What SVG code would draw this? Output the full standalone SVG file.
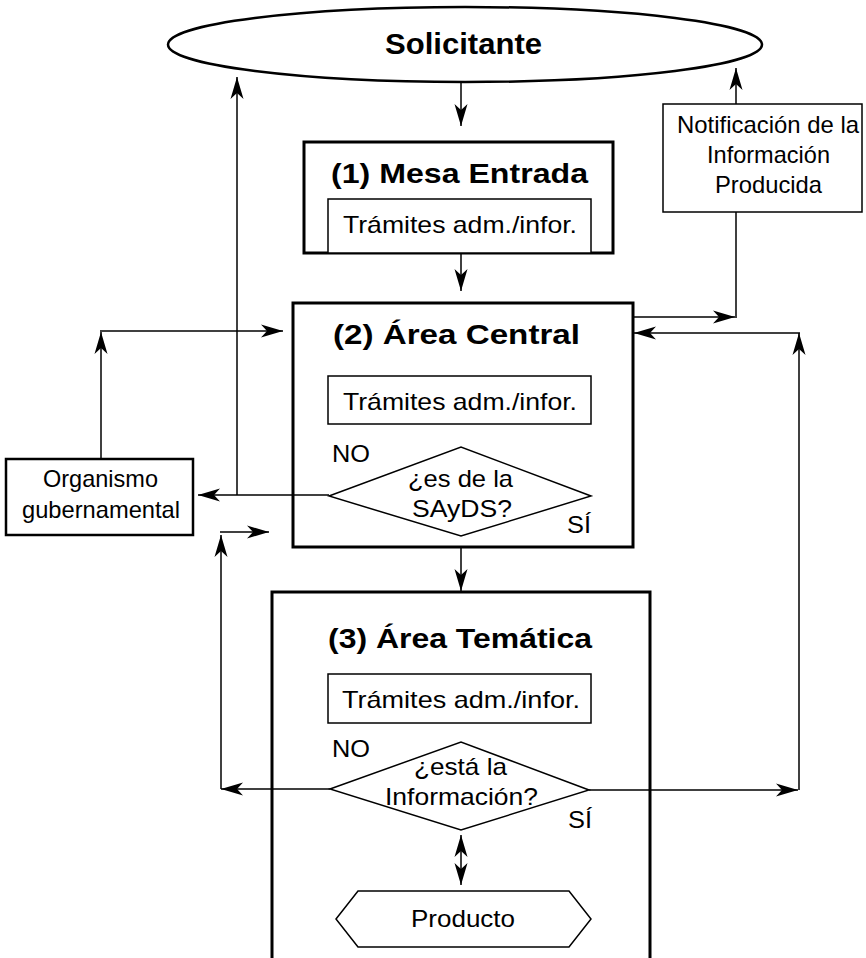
<svg xmlns="http://www.w3.org/2000/svg" width="866" height="958" viewBox="0 0 866 958">
<style>
text{font-family:"Liberation Sans",Arial,Helvetica,sans-serif;fill:#000;}
.t{font-size:24px;text-anchor:middle;}
.s{font-size:24px;}
.h{font-size:28px;font-weight:bold;text-anchor:middle;}
.big{fill:none;stroke:#000;stroke-width:3;}
.thin{fill:#fff;stroke:#000;stroke-width:1.5;}
.c{fill:none;stroke:#000;stroke-width:1.5;marker-end:url(#ah);}
</style>
<defs>
<marker id="ah" viewBox="-23 -8 24 16" markerWidth="24" markerHeight="16" refX="0" refY="0" markerUnits="userSpaceOnUse" orient="auto-start-reverse">
<path d="M0,0 L-22,-6.5 L-16,0 L-22,6.5 Z" fill="#000"/>
</marker>
</defs>
<rect width="866" height="958" fill="#fff"/>

<g id="connectors">
<line class="c" x1="461" y1="83" x2="461" y2="126"/>
<line class="c" x1="461" y1="253" x2="461" y2="291"/>
<line class="c" x1="461" y1="548" x2="461" y2="591"/>
<line class="c" x1="329" y1="495" x2="198" y2="495"/>
<line class="c" x1="237" y1="495" x2="237" y2="77"/>
<line class="c" x1="101" y1="459" x2="101" y2="332"/>
<line class="c" x1="100" y1="331" x2="283" y2="331"/>
<line class="c" x1="330" y1="789" x2="221" y2="789"/>
<line class="c" x1="221" y1="789" x2="221" y2="535"/>
<line class="c" x1="220" y1="532" x2="269" y2="532"/>
<line class="c" x1="589" y1="790" x2="798" y2="790"/>
<line class="c" x1="799" y1="790" x2="799" y2="333"/>
<line class="c" x1="800" y1="333" x2="634" y2="333"/>
<line class="c" x1="633" y1="317" x2="735" y2="317"/>
<line fill="none" stroke="#000" stroke-width="1.5" x1="736" y1="318" x2="736" y2="212"/>
<line class="c" x1="736" y1="104" x2="736" y2="68"/>
<line class="c" x1="461" y1="835" x2="461" y2="885" style="marker-start:url(#ah)"/>
</g>

<g id="solicitante">
<ellipse cx="465" cy="44.5" rx="297" ry="37.5" fill="none" stroke="#000" stroke-width="2.5"/>
<text x="463.5" y="54" style="font-size:30px;font-weight:bold;text-anchor:middle" textLength="157" lengthAdjust="spacingAndGlyphs">Solicitante</text>
</g>

<g id="mesa-entrada">
<rect class="big" x="304" y="142" width="309" height="111"/>
<text class="h" x="459.5" y="183" textLength="257" lengthAdjust="spacingAndGlyphs">(1) Mesa Entrada</text>
<rect class="thin" x="328" y="199" width="263" height="54"/>
<text class="t" x="460" y="233" textLength="234" lengthAdjust="spacingAndGlyphs">Trámites adm./infor.</text>
</g>

<g id="notificacion">
<rect class="thin" x="663" y="104" width="199" height="108"/>
<text class="t" x="768" y="133" textLength="182" lengthAdjust="spacingAndGlyphs">Notificación de la</text>
<text class="t" x="768.5" y="163" textLength="123" lengthAdjust="spacingAndGlyphs">Información</text>
<text class="t" x="768.5" y="193" textLength="107" lengthAdjust="spacingAndGlyphs">Producida</text>
</g>

<g id="area-central">
<rect class="big" x="293" y="303" width="340" height="244"/>
<text class="h" x="456.5" y="344" textLength="247" lengthAdjust="spacingAndGlyphs">(2) Área Central</text>
<rect class="thin" x="328" y="376" width="263" height="48"/>
<text class="t" x="460" y="410" textLength="234" lengthAdjust="spacingAndGlyphs">Trámites adm./infor.</text>
<text class="s" x="332" y="462" textLength="38" lengthAdjust="spacingAndGlyphs">NO</text>
<polygon class="thin" points="329,496 461,447 591,496 461,536"/>
<text class="t" x="460.5" y="487" textLength="105" lengthAdjust="spacingAndGlyphs">¿es de la</text>
<text class="t" x="462" y="517" textLength="100" lengthAdjust="spacingAndGlyphs">SAyDS?</text>
<text class="s" x="567" y="533" textLength="24" lengthAdjust="spacingAndGlyphs">SÍ</text>
</g>

<g id="organismo">
<rect x="6" y="459" width="187" height="76" fill="#fff" stroke="#000" stroke-width="2.5"/>
<text class="t" x="100.5" y="487" textLength="115" lengthAdjust="spacingAndGlyphs">Organismo</text>
<text class="t" x="101" y="518" textLength="158" lengthAdjust="spacingAndGlyphs">gubernamental</text>
</g>

<g id="area-tematica">
<path class="big" d="M272,962 V592 H650 V962"/>
<text class="h" x="460" y="648" textLength="264" lengthAdjust="spacingAndGlyphs">(3) Área Temática</text>
<rect class="thin" x="328" y="674" width="263" height="49"/>
<text class="t" x="461" y="708" textLength="238" lengthAdjust="spacingAndGlyphs">Trámites adm./infor.</text>
<text class="s" x="332" y="757" textLength="38" lengthAdjust="spacingAndGlyphs">NO</text>
<polygon class="thin" points="330,789 461,742 589,790 461,830"/>
<text class="t" x="460.5" y="775" textLength="93" lengthAdjust="spacingAndGlyphs">¿está la</text>
<text class="t" x="461.5" y="805" textLength="153" lengthAdjust="spacingAndGlyphs">Información?</text>
<text class="s" x="568" y="828" textLength="24" lengthAdjust="spacingAndGlyphs">SÍ</text>
</g>

<g id="producto">
<polygon class="thin" points="336,919 358,891 569,891 591,919 569,947 358,947"/>
<text class="t" x="463" y="927" textLength="104" lengthAdjust="spacingAndGlyphs">Producto</text>
</g>
</svg>
